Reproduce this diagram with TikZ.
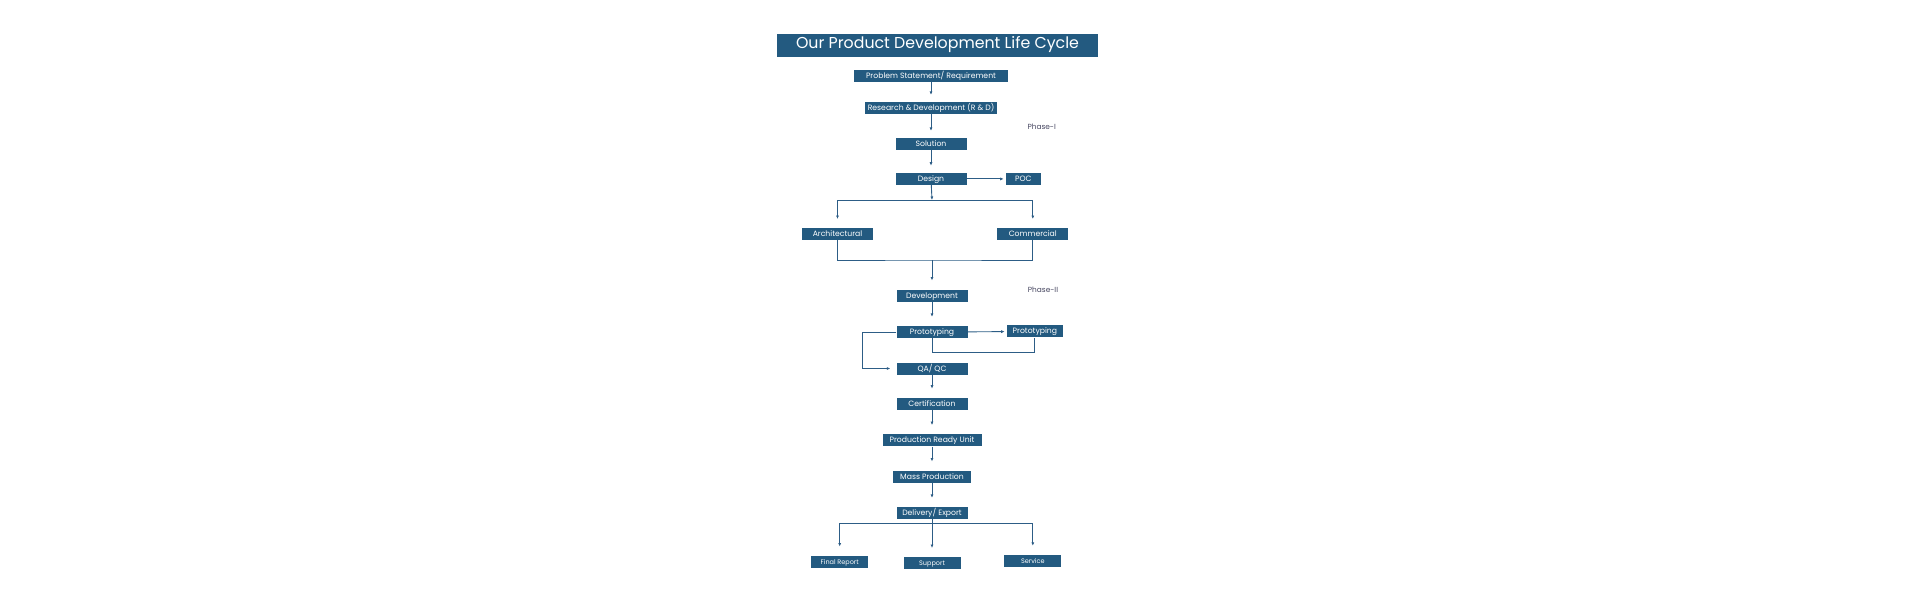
\documentclass[tikz,border=0pt]{standalone}
\usepackage{fontspec}
\setmainfont{Poppins}
\usepackage{tikz}
\usetikzlibrary{arrows.meta,positioning,calc}
\definecolor{stageblue}{HTML}{235A80}
\definecolor{linkblue}{HTML}{2D5D86}
\definecolor{phasegray}{HTML}{45455F}

\begin{document}
\begin{tikzpicture}[
  x=1pt, y=-1pt,
  node distance=24pt and 39pt,
  stage/.style={
    fill=stageblue, text=white, minimum width=71pt, minimum height=12pt,
    inner sep=0pt, align=center, text height=0.72em, text depth=0.22em,
    font=\fontsize{7.7}{8}\selectfont,
  },
  small/.style={stage, minimum width=57pt, font=\fontsize{6.5}{7}\selectfont},
  titlebox/.style={
    fill=stageblue, text=white, minimum width=321pt, minimum height=23pt,
    inner sep=0pt, text height=0.72em, text depth=0.22em,
    font=\fontsize{15.8}{17}\selectfont,
  },
  phase/.style={text=phasegray, font=\fontsize{7.4}{8}\selectfont, inner sep=0pt},
  line/.style={draw=linkblue, line width=0.9pt},
  flow/.style={line, -{Latex[length=3.5pt,width=3pt]}, shorten >=7pt},
]
\useasboundingbox (0,0) rectangle (1920,600);

\node[titlebox] (title) at (937.5,45.5) {Our Product Development Life Cycle};

\node[stage, minimum width=154pt] (prob) at (931,76) {Problem Statement/ Requirement};
\node[stage, minimum width=132pt, below=19.7pt of prob] (rnd) {Research \& Development (R \& D)};
\node[stage, below=23.6pt of rnd] (sol) {Solution};
\node[stage, below=22.4pt of sol] (design) {Design};
\node[stage, minimum width=35pt, right=of design] (poc) {POC};

\node[stage] (arch) at (837.5,234.2) {Architectural};
\node[stage] (comm) at (1032.8,234.2) {Commercial};

\node[stage] (dev) at (932,295.7) {Development};
\node[stage, below=of dev] (proto) {Prototyping};
\node[stage, minimum width=56pt, right=of proto, yshift=0.7pt] (proto2) {Prototyping};
\node[stage, below=of proto] (qa) {QA/ QC};
\node[stage, below=23pt of qa] (cert) {Certification};
\node[stage, minimum width=99pt, below=of cert] (pru) {Production Ready Unit};
\node[stage, minimum width=78pt, below=of pru] (mass) {Mass Production};
\node[stage, below=of mass] (deliv) {Delivery/ Export};

\node[small, below=37.7pt of deliv] (support) {Support};
\node[small] (final) at (839.7,561.8) {Final Report};
\node[small] (service) at (1032.8,561) {Service};

% phase labels
\node[phase] (ph1) at (1041.7,126.7) {Phase-I};
\node[phase] (ph2) at (1043,289.3) {Phase-II};

% junction points
\coordinate (split) at (932,200);
\coordinate (merge) at (932,260);
\coordinate (pback) at (932,352.7);
\coordinate (fan) at (932,523.7);

\draw[flow] (prob) -- (rnd);
\draw[flow] (rnd) -- (sol);
\draw[flow] (sol) -- (design);
\draw[flow, shorten >=2pt] (design) -- (poc);

\draw[flow, shorten >=0pt] (design) -- (split);
\draw[flow, shorten >=9pt] (split) -| (arch);
\draw[flow, shorten >=9pt] (split) -| (comm);
\draw[line] (arch) |- (merge) -| (comm);
\draw[flow, shorten >=9pt] (merge) -- (dev);

\draw[flow, shorten >=9pt] (dev) -- (proto);
\draw[flow, shorten >=2pt] (proto) -- (proto2);
\draw[line] (proto) -- (pback) -| (proto2);
\draw[flow, shorten >=6pt] (proto.west) -- ++(-34,0) |- (qa.west);
\draw[flow, shorten >=9pt] (qa) -- (cert);
\draw[flow, shorten >=9pt] (cert) -- (pru);
\draw[flow, shorten >=9pt] (pru) -- (mass);
\draw[flow, shorten >=9pt] (mass) -- (deliv);

\draw[line] (deliv) -- (fan);
\draw[flow, shorten >=9pt] (fan) -| (final);
\draw[flow, shorten >=9pt] (fan) -- (support);
\draw[flow, shorten >=9pt] (fan) -| (service);

\end{tikzpicture}
\end{document}
